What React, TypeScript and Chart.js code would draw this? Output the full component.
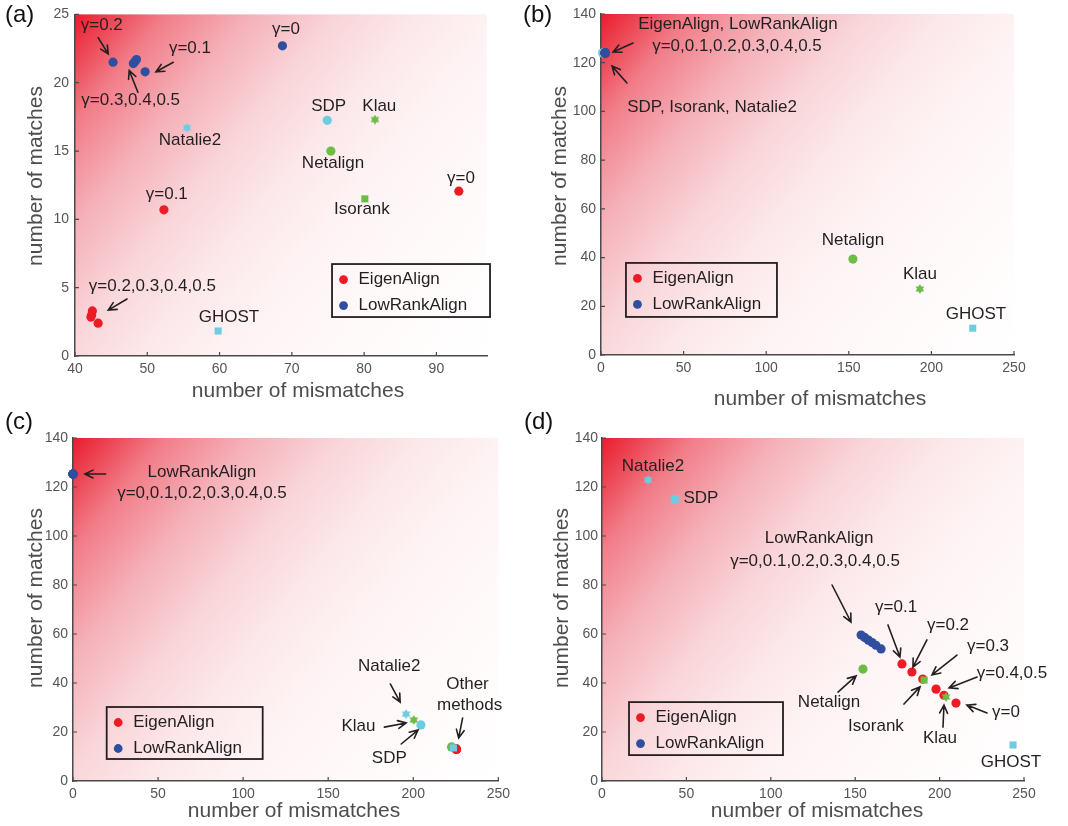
import React, { useEffect, useRef } from 'react';
import { Chart, registerables } from 'chart.js';
Chart.register(...registerables);

const FONT = '"Liberation Sans", Arial, Helvetica, sans-serif';
const RED = '#ed1c24';
const BLUE = '#2f4e9f';
const GREEN = '#6cbd45';
const CYAN = '#6dcde0';
const INK = '#231f20';
const AXIS = '#4a4a4a';
const TICK_TEXT = '#555555';

// ---------- tick labels ----------
const A_X_TICKS = [40, 50, 60, 70, 80, 90];
const A_Y_TICKS = [0, 5, 10, 15, 20, 25];
const X_TICKS_250 = [0, 50, 100, 150, 200, 250];
const Y_TICKS_140 = [0, 20, 40, 60, 80, 100, 120, 140];

// ---------- panel (a) data ----------
const A_EIGENALIGN = [
  { x: 93.1, y: 12.06 }, { x: 52.3, y: 10.7 }, { x: 42.4, y: 3.3 },
  { x: 42.3, y: 3.0 }, { x: 42.2, y: 2.85 }, { x: 43.2, y: 2.4 },
];
const A_LOWRANKALIGN = [
  { x: 68.7, y: 22.7 }, { x: 49.7, y: 20.8 }, { x: 45.26, y: 21.5 },
  { x: 48.07, y: 21.4 }, { x: 48.3, y: 21.55 }, { x: 48.5, y: 21.7 },
];
const A_SDP = [{ x: 74.9, y: 17.25 }];
const A_KLAU = [{ x: 81.5, y: 17.3 }];
const A_NETALIGN = [{ x: 75.4, y: 15.0 }];
const A_ISORANK = [{ x: 80.1, y: 11.5 }];
const A_NATALIE2 = [{ x: 55.5, y: 16.7 }];
const A_GHOST = [{ x: 59.8, y: 1.83 }];

// ---------- panel (b) data ----------
const B_EIGENALIGN = [
  { x: 2.5, y: 124 }, { x: 2.5, y: 124 }, { x: 2.5, y: 124 },
  { x: 2.5, y: 124 }, { x: 2.5, y: 124 }, { x: 2.5, y: 124 },
];
const B_LOWRANKALIGN = [
  { x: 2.5, y: 124 }, { x: 2.5, y: 124 }, { x: 2.5, y: 124 },
  { x: 2.5, y: 124 }, { x: 2.5, y: 124 }, { x: 2.5, y: 124 },
];
const B_SDP = [{ x: 1, y: 124 }];
const B_ISORANK = [{ x: 1, y: 124 }];
const B_NATALIE2 = [{ x: 1, y: 124 }];
const B_NETALIGN = [{ x: 152.5, y: 39.4 }];
const B_KLAU = [{ x: 193, y: 27.1 }];
const B_GHOST = [{ x: 225, y: 11 }];

// ---------- panel (c) data ----------
const C_LOWRANKALIGN = [
  { x: 0, y: 125.3 }, { x: 0, y: 125.3 }, { x: 0, y: 125.3 },
  { x: 0, y: 125.3 }, { x: 0, y: 125.3 }, { x: 0, y: 125.3 },
];
const C_EIGENALIGN = [
  { x: 225.3, y: 13.0 }, { x: 225.3, y: 13.0 }, { x: 225.2, y: 13.1 },
  { x: 225.3, y: 12.9 }, { x: 225.4, y: 13.0 }, { x: 225.3, y: 13.0 },
];
const C_NATALIE2 = [{ x: 195.8, y: 27.3 }];
const C_KLAU = [{ x: 200.3, y: 24.9 }];
const C_SDP = [{ x: 204.5, y: 22.9 }];
const C_NETALIGN = [{ x: 222.5, y: 13.9 }];
const C_ISORANK = [{ x: 222.8, y: 13.7 }];
const C_GHOST = [{ x: 223.6, y: 13.5 }];

// ---------- panel (d) data ----------
const D_LOWRANKALIGN = [
  { x: 153.5, y: 59.6 }, { x: 155.6, y: 58.6 }, { x: 157.8, y: 57.5 },
  { x: 160.0, y: 56.5 }, { x: 162.3, y: 55.4 }, { x: 165.3, y: 53.9 },
];
const D_EIGENALIGN = [
  { x: 209.7, y: 31.8 }, { x: 177.7, y: 47.8 }, { x: 183.6, y: 44.5 },
  { x: 190.0, y: 41.6 }, { x: 197.9, y: 37.5 }, { x: 202.6, y: 35.0 },
];
const D_NETALIGN = [{ x: 154.6, y: 45.7 }];
const D_ISORANK = [{ x: 190.8, y: 41.2 }];
const D_KLAU = [{ x: 203.8, y: 34.3 }];
const D_GHOST = [{ x: 243.5, y: 14.7 }];
const D_NATALIE2 = [{ x: 27.3, y: 122.9 }];
const D_SDP = [{ x: 43.2, y: 115 }];

// ---------- annotations (data coordinates) ----------
const A_NOTES = [
  { t: 'γ=0.2', x: 43.7, y: 24.2 },
  { t: 'γ=0.1', x: 55.9, y: 22.5 },
  { t: 'γ=0.3,0.4,0.5', x: 47.7, y: 18.7 },
  { t: 'γ=0', x: 69.2, y: 23.9 },
  { t: 'SDP', x: 75.1, y: 18.3 },
  { t: 'Klau', x: 82.1, y: 18.3 },
  { t: 'Natalie2', x: 55.9, y: 15.8 },
  { t: 'Netalign', x: 75.7, y: 14.1 },
  { t: 'γ=0', x: 93.4, y: 13.0 },
  { t: 'γ=0.1', x: 52.7, y: 11.8 },
  { t: 'Isorank', x: 79.7, y: 10.7 },
  { t: 'γ=0.2,0.3,0.4,0.5', x: 50.7, y: 5.1 },
  { t: 'GHOST', x: 61.3, y: 2.85 },
];
const A_ARROWS = [
  [43.2, 23.3, 44.6, 22.1],
  [53.6, 21.5, 51.2, 20.8],
  [48.7, 19.3, 47.5, 20.9],
  [47.2, 4.17, 44.6, 3.36],
];
const B_NOTES = [
  { t: 'EigenAlign, LowRankAlign', x: 82.9, y: 135.9 },
  { t: 'γ=0,0.1,0.2,0.3,0.4,0.5', x: 82.3, y: 126.8 },
  { t: 'SDP, Isorank, Natalie2', x: 67.2, y: 101.8 },
  { t: 'Netalign', x: 152.5, y: 47.2 },
  { t: 'Klau', x: 193.1, y: 33.3 },
  { t: 'GHOST', x: 227, y: 16.8 },
];
const B_ARROWS = [
  [19.4, 128.1, 7.3, 124.4],
  [15.7, 111.7, 6.7, 118.6],
];
const C_NOTES = [
  { t: 'LowRankAlign', x: 75.8, y: 126.1 },
  { t: 'γ=0,0.1,0.2,0.3,0.4,0.5', x: 75.8, y: 117.6 },
  { t: 'Natalie2', x: 185.9, y: 46.9 },
  { t: 'Klau', x: 167.8, y: 22.4 },
  { t: 'SDP', x: 185.9, y: 9.4 },
  { t: 'Other', x: 231.9, y: 39.6 },
  { t: 'methods', x: 233.1, y: 31.0 },
];
const C_ARROWS = [
  [19.2, 125.3, 7.0, 125.3],
  [186.5, 39.6, 192.3, 32.2],
  [183, 22, 195.8, 23.7],
  [192.9, 15.1, 202.8, 20.8],
  [229, 25.7, 226.7, 17.6],
];
const D_NOTES = [
  { t: 'Natalie2', x: 30.2, y: 128.6 },
  { t: 'SDP', x: 58.6, y: 115.5 },
  { t: 'LowRankAlign', x: 128.6, y: 99.2 },
  { t: 'γ=0,0.1,0.2,0.3,0.4,0.5', x: 126.2, y: 89.8 },
  { t: 'γ=0.1', x: 174.2, y: 71.0 },
  { t: 'γ=0.2', x: 205, y: 63.7 },
  { t: 'γ=0.3', x: 228.7, y: 55.1 },
  { t: 'γ=0.4,0.5', x: 242.9, y: 44.1 },
  { t: 'γ=0', x: 239.3, y: 28.2 },
  { t: 'Netalign', x: 134.5, y: 32.2 },
  { t: 'Isorank', x: 162.3, y: 22.4 },
  { t: 'Klau', x: 200.2, y: 17.6 },
  { t: 'GHOST', x: 242.3, y: 7.8 },
];
const D_ARROWS = [
  [136.3, 80, 147.5, 64.9],
  [169.4, 63.7, 176.5, 50.6],
  [192.5, 57.6, 184.2, 46.5],
  [210.3, 51.4, 195.5, 43.3],
  [222.2, 42.4, 205.6, 38],
  [228.1, 27.8, 216.2, 31],
  [139.8, 36.3, 150.5, 42.9],
  [178.9, 31.4, 188.4, 38.4],
  [202, 22, 202.6, 31],
];

const LEGEND_ITEMS = ['EigenAlign', 'LowRankAlign'];

type Shape = 'circle' | 'square' | 'star';
const STYLE: Record<string, { color: string; shape: Shape }> = {
  EigenAlign: { color: RED, shape: 'circle' },
  LowRankAlign: { color: BLUE, shape: 'circle' },
  SDP: { color: CYAN, shape: 'circle' },
  Natalie2: { color: CYAN, shape: 'star' },
  GHOST: { color: CYAN, shape: 'square' },
  Netalign: { color: GREEN, shape: 'circle' },
  Klau: { color: GREEN, shape: 'star' },
  Isorank: { color: GREEN, shape: 'square' },
};

type Pt = { x: number; y: number };
interface PanelCfg {
  id: string;
  frame: { x: number; y: number; w: number; h: number };
  area: { l: number; t: number; r: number; b: number };
  xMin: number; xMax: number; yMin: number; yMax: number;
  xTicks: number[]; yTicks: number[];
  yPad: number;
  series: [string, Pt[]][];
  notes: { t: string; x: number; y: number }[];
  arrows: number[][];
  legend: { x: number; y: number; w: number; h: number };
  xTitle: [number, number];
  yTitle: [number, number];
  label: [number, number];
}

const PANELS: PanelCfg[] = [
  {
    id: '(a)',
    frame: { x: 0, y: 0, w: 515, h: 410 },
    area: { l: 75, t: 14, r: 487, b: 356 },
    xMin: 40, xMax: 97, yMin: 0, yMax: 25,
    xTicks: A_X_TICKS, yTicks: A_Y_TICKS, yPad: 6,
    series: [
      ['LowRankAlign', A_LOWRANKALIGN], ['EigenAlign', A_EIGENALIGN], ['SDP', A_SDP],
      ['Klau', A_KLAU], ['Netalign', A_NETALIGN], ['Isorank', A_ISORANK],
      ['Natalie2', A_NATALIE2], ['GHOST', A_GHOST],
    ],
    notes: A_NOTES, arrows: A_ARROWS,
    legend: { x: 75.56, y: 6.73, w: 158, h: 53 },
    xTitle: [298, 391], yTitle: [36, 176], label: [5, 15],
  },
  {
    id: '(b)',
    frame: { x: 515, y: 0, w: 553, h: 410 },
    area: { l: 601, t: 14, r: 1014, b: 355 },
    xMin: 0, xMax: 250, yMin: 0, yMax: 140,
    xTicks: X_TICKS_250, yTicks: Y_TICKS_140, yPad: 5,
    series: [
      ['LowRankAlign', B_LOWRANKALIGN], ['EigenAlign', B_EIGENALIGN], ['SDP', B_SDP],
      ['Natalie2', B_NATALIE2], ['Isorank', B_ISORANK], ['Netalign', B_NETALIGN],
      ['Klau', B_KLAU], ['GHOST', B_GHOST],
    ],
    notes: B_NOTES, arrows: B_ARROWS,
    legend: { x: 15.1, y: 37.8, w: 151, h: 54 },
    xTitle: [820, 399], yTitle: [560, 176], label: [523, 15],
  },
  {
    id: '(c)',
    frame: { x: 0, y: 410, w: 515, h: 416 },
    area: { l: 73, t: 438, r: 502, b: 781 },
    xMin: 0, xMax: 250, yMin: 0, yMax: 140,
    xTicks: X_TICKS_250, yTicks: Y_TICKS_140, yPad: 5,
    series: [
      ['LowRankAlign', C_LOWRANKALIGN], ['GHOST', C_GHOST], ['Netalign', C_NETALIGN],
      ['EigenAlign', C_EIGENALIGN], ['Isorank', C_ISORANK], ['SDP', C_SDP],
      ['Klau', C_KLAU], ['Natalie2', C_NATALIE2],
    ],
    notes: C_NOTES, arrows: C_ARROWS,
    legend: { x: 19.8, y: 30.2, w: 156, h: 52 },
    xTitle: [294, 811], yTitle: [36, 598], label: [5, 422],
  },
  {
    id: '(d)',
    frame: { x: 515, y: 410, w: 553, h: 416 },
    area: { l: 602, t: 438, r: 1024, b: 781 },
    xMin: 0, xMax: 250, yMin: 0, yMax: 140,
    xTicks: X_TICKS_250, yTicks: Y_TICKS_140, yPad: 4,
    series: [
      ['GHOST', D_GHOST], ['Klau', D_KLAU], ['Isorank', D_ISORANK],
      ['EigenAlign', D_EIGENALIGN], ['LowRankAlign', D_LOWRANKALIGN], ['Netalign', D_NETALIGN],
      ['SDP', D_SDP], ['Natalie2', D_NATALIE2],
    ],
    notes: D_NOTES, arrows: D_ARROWS,
    legend: { x: 16, y: 32.2, w: 154, h: 53 },
    xTitle: [817, 811], yTitle: [562, 598], label: [524, 422],
  },
];

function hexagram(color: string, size: number): HTMLCanvasElement {
  const c = document.createElement('canvas');
  c.width = size;
  c.height = size;
  const g = c.getContext('2d')!;
  const r = size / 2;
  g.fillStyle = color;
  for (const rot of [-Math.PI / 2, Math.PI / 2]) {
    g.beginPath();
    for (let i = 0; i < 3; i++) {
      const a = rot + (i * 2 * Math.PI) / 3;
      const px = r + r * Math.cos(a);
      const py = r + r * Math.sin(a);
      if (i === 0) g.moveTo(px, py);
      else g.lineTo(px, py);
    }
    g.closePath();
    g.fill();
  }
  return c;
}

function drawArrow(ctx: CanvasRenderingContext2D, x1: number, y1: number, x2: number, y2: number) {
  const ang = Math.atan2(y2 - y1, x2 - x1);
  const hl = 9;
  const ha = 0.45;
  ctx.beginPath();
  ctx.moveTo(x1, y1);
  ctx.lineTo(x2, y2);
  ctx.moveTo(x2 - hl * Math.cos(ang - ha), y2 - hl * Math.sin(ang - ha));
  ctx.lineTo(x2, y2);
  ctx.lineTo(x2 - hl * Math.cos(ang + ha), y2 - hl * Math.sin(ang + ha));
  ctx.stroke();
}

function makePlugin(p: PanelCfg) {
  return {
    id: 'panelDeco' + p.id.replace(/[()]/g, ''),
    beforeDraw(chart: any) {
      const { ctx, chartArea } = chart;
      const { left, top, right, bottom } = chartArea;
      const g = ctx.createLinearGradient(left, top, right, bottom);
      g.addColorStop(0, 'rgb(234,28,44)');
      g.addColorStop(0.06, 'rgb(237,72,86)');
      g.addColorStop(0.13, 'rgb(241,125,136)');
      g.addColorStop(0.25, 'rgb(245,176,184)');
      g.addColorStop(0.38, 'rgb(249,213,217)');
      g.addColorStop(0.5, 'rgb(252,232,234)');
      g.addColorStop(0.62, 'rgb(254,243,244)');
      g.addColorStop(0.8, 'rgb(255,250,250)');
      g.addColorStop(1, 'rgb(255,255,255)');
      ctx.save();
      ctx.fillStyle = g;
      ctx.fillRect(left, top, right - left, bottom - top);
      ctx.restore();
    },
    afterDraw(chart: any) {
      const { ctx, chartArea } = chart;
      const xs = chart.scales.x;
      const ys = chart.scales.y;
      const ox = p.frame.x;
      const oy = p.frame.y;
      ctx.save();
      // inward ticks
      ctx.strokeStyle = AXIS;
      ctx.lineWidth = 1.2;
      ctx.beginPath();
      for (const t of xs.ticks) {
        const px = xs.getPixelForValue(t.value);
        ctx.moveTo(px, chartArea.bottom);
        ctx.lineTo(px, chartArea.bottom - 4);
      }
      for (const t of ys.ticks) {
        const py = ys.getPixelForValue(t.value);
        ctx.moveTo(chartArea.left, py);
        ctx.lineTo(chartArea.left + 4, py);
      }
      ctx.stroke();

      // notes
      ctx.fillStyle = INK;
      ctx.font = `17px ${FONT}`;
      ctx.textAlign = 'center';
      ctx.textBaseline = 'middle';
      for (const n of p.notes) {
        ctx.fillText(n.t, xs.getPixelForValue(n.x), ys.getPixelForValue(n.y));
      }
      // arrows
      ctx.strokeStyle = INK;
      ctx.lineWidth = 1.6;
      ctx.lineCap = 'round';
      for (const a of p.arrows) {
        drawArrow(
          ctx,
          xs.getPixelForValue(a[0]), ys.getPixelForValue(a[1]),
          xs.getPixelForValue(a[2]), ys.getPixelForValue(a[3]),
        );
      }
      // legend
      const lx = xs.getPixelForValue(p.legend.x);
      const ly = ys.getPixelForValue(p.legend.y);
      ctx.lineCap = 'butt';
      ctx.lineWidth = 1.8;
      ctx.strokeStyle = INK;
      ctx.strokeRect(lx, ly, p.legend.w, p.legend.h);
      ctx.textAlign = 'left';
      LEGEND_ITEMS.forEach((name, i) => {
        const cy = ly + 15.5 + i * 26;
        ctx.fillStyle = STYLE[name].color;
        ctx.beginPath();
        ctx.arc(lx + 11.5, cy, 4.4, 0, Math.PI * 2);
        ctx.fill();
        ctx.fillStyle = INK;
        ctx.fillText(name, lx + 26.5, cy);
      });
      // axis titles
      ctx.fillStyle = '#4d4d4d';
      ctx.font = `21px ${FONT}`;
      ctx.textAlign = 'center';
      ctx.fillText('number of mismatches', p.xTitle[0] - ox, p.xTitle[1] - oy);
      ctx.save();
      ctx.translate(p.yTitle[0] - ox, p.yTitle[1] - oy);
      ctx.rotate(-Math.PI / 2);
      ctx.fillText('number of matches', 0, 0);
      ctx.restore();
      // panel label
      ctx.fillStyle = '#111';
      ctx.font = `24px ${FONT}`;
      ctx.textAlign = 'left';
      ctx.fillText(p.id, p.label[0] - ox, p.label[1] - oy);
      ctx.restore();
    },
  };
}

function buildConfig(p: PanelCfg): any {
  const datasets = p.series.map(([name, data], i) => {
    const st = STYLE[name];
    return {
      label: name,
      data,
      pointStyle: st.shape === 'star' ? hexagram(st.color, 10) : st.shape === 'square' ? 'rect' : 'circle',
      pointRadius: st.shape === 'square' ? 5 : 4.6,
      backgroundColor: st.color,
      borderColor: st.color,
      borderWidth: 0,
      showLine: false,
      clip: false,
      order: i,
    };
  });
  const yW = p.area.l - p.frame.x;
  const xH = p.frame.y + p.frame.h - p.area.b;
  const tickFont = { family: FONT, size: 14 };
  return {
    type: 'scatter',
    data: { datasets },
    plugins: [makePlugin(p)],
    options: {
      responsive: false,
      animation: false,
      devicePixelRatio: 1,
      events: [],
      layout: {
        padding: {
          left: 0,
          bottom: 0,
          top: p.area.t - p.frame.y,
          right: p.frame.x + p.frame.w - p.area.r,
        },
      },
      plugins: { legend: { display: false }, tooltip: { enabled: false }, title: { display: false } },
      scales: {
        x: {
          type: 'linear',
          min: p.xMin,
          max: p.xMax,
          afterBuildTicks: (s: any) => { s.ticks = p.xTicks.map((v) => ({ value: v })); },
          afterFit: (s: any) => { s.height = xH; },
          grid: { display: false, drawTicks: false },
          border: { display: true, color: AXIS, width: 1.5 },
          ticks: { font: tickFont, color: TICK_TEXT, padding: 5, maxRotation: 0, autoSkip: false },
        },
        y: {
          type: 'linear',
          min: p.yMin,
          max: p.yMax,
          afterBuildTicks: (s: any) => { s.ticks = p.yTicks.map((v) => ({ value: v })); },
          afterFit: (s: any) => { s.width = yW; },
          grid: { display: false, drawTicks: false },
          border: { display: true, color: AXIS, width: 1.5 },
          ticks: { font: tickFont, color: TICK_TEXT, padding: p.yPad, autoSkip: false },
        },
      },
    },
  };
}

function Panel({ p }: { p: PanelCfg }) {
  const ref = useRef<HTMLCanvasElement>(null);
  useEffect(() => {
    const chart = new Chart(ref.current as HTMLCanvasElement, buildConfig(p));
    return () => chart.destroy();
  }, [p]);
  return (
    <canvas
      ref={ref}
      width={p.frame.w}
      height={p.frame.h}
      style={{ position: 'absolute', left: p.frame.x, top: p.frame.y, width: p.frame.w, height: p.frame.h }}
    />
  );
}

export default function App() {
  return (
    <div style={{ position: 'absolute', left: 0, top: 0, width: 1068, height: 826, background: '#ffffff', overflow: 'hidden' }}>
      {PANELS.map((p) => (
        <Panel key={p.id} p={p} />
      ))}
    </div>
  );
}
